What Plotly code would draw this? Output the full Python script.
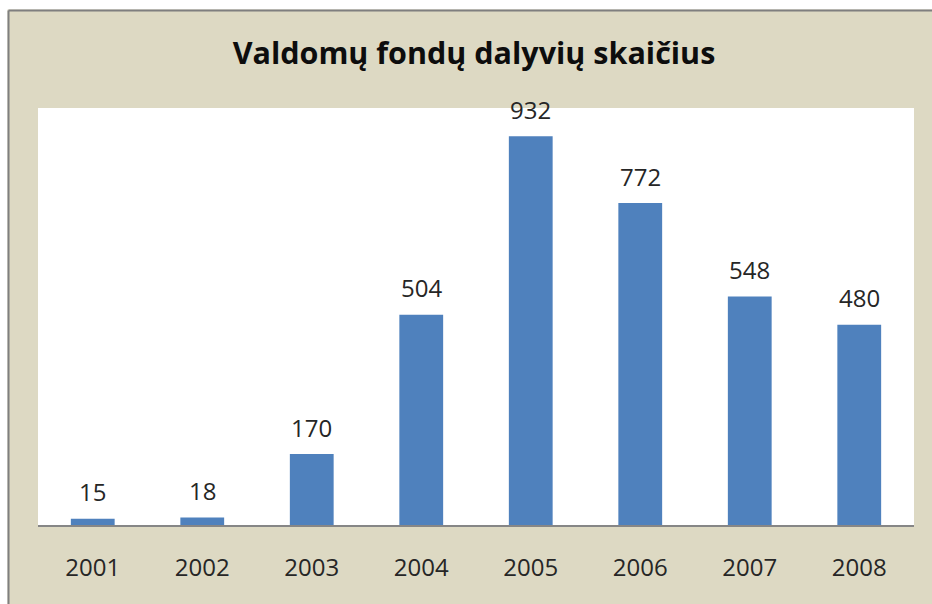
import plotly.graph_objects as go

years = ["2001", "2002", "2003", "2004", "2005", "2006", "2007", "2008"]
participants = [15, 18, 170, 504, 932, 772, 548, 480]
title_text = "Valdomų fondų dalyvių skaičius"

W, H = 932, 604
L, R, T, B = 38, 18, 108, 79
pw, ph = W - L - R, H - T - B

def px_x(x):
    return (x - L) / pw

def px_y(y):
    return (H - B - y) / ph

BG = "#ddd9c3"
BAR = "#4f81bd"
FONT = "Open Sans"

fig = go.Figure()
fig.add_trace(go.Bar(x=years, y=participants, marker=dict(color=BAR, line=dict(width=0)),
                     hoverinfo="skip"))

for i, v in enumerate(participants):
    fig.add_annotation(x=i, y=v, text=str(v), showarrow=False, xref="x", yref="y",
                       yanchor="middle", yshift=27,
                       font=dict(family=FONT, size=24, color="#262626"))

shapes = [
    dict(type="rect", xref="paper", yref="paper", x0=px_x(-5), x1=px_x(W + 5), y0=px_y(-5), y1=px_y(9.5),
         fillcolor="white", line=dict(width=0), layer="above"),
    dict(type="rect", xref="paper", yref="paper", x0=px_x(-5), x1=px_x(7.5), y0=px_y(H + 5), y1=px_y(-5),
         fillcolor="white", line=dict(width=0), layer="above"),
    dict(type="line", xref="paper", yref="paper", x0=px_x(8.5), x1=px_x(W + 5), y0=px_y(10.5), y1=px_y(10.5),
         line=dict(color="#7f7f7f", width=2)),
    dict(type="line", xref="paper", yref="paper", x0=px_x(8.5), x1=px_x(8.5), y0=px_y(10.5), y1=px_y(H + 5),
         line=dict(color="#7f7f7f", width=2)),
]

fig.update_layout(
    width=W, height=H,
    margin=dict(l=L, r=R, t=T, b=B, pad=0),
    paper_bgcolor=BG, plot_bgcolor="white",
    showlegend=False,
    shapes=shapes,
    title=dict(text="<b>" + title_text + "</b>", x=474 / W, xanchor="center",
               y=1 - 53 / H, yanchor="middle",
               font=dict(family=FONT, size=30.5, color="#0d0d0d")),
    xaxis=dict(type="category", range=[-0.5, len(years) - 0.5], showgrid=False, zeroline=False,
               showline=True, linecolor="#868686", linewidth=1.5, ticks="", ticklabelstandoff=20,
               tickfont=dict(family=FONT, size=24, color="#262626"), fixedrange=True),
    yaxis=dict(range=[0, 1000], showgrid=False, zeroline=False, showline=False,
               showticklabels=False, ticks="", fixedrange=True),
    bargap=0.6,
)

fig.write_html("out.html", config={"displayModeBar": False},
               post_script="document.body.style.margin='0';document.body.style.overflow='hidden';")
